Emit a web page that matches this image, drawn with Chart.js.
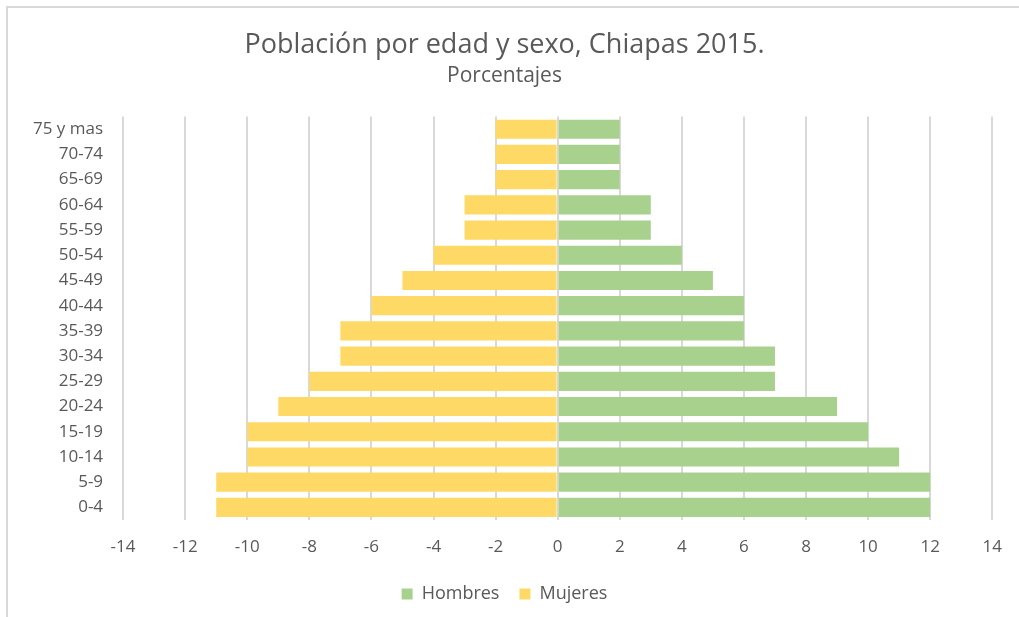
<!DOCTYPE html>
<html>
<head>
<meta charset="utf-8">
<script src="https://cdn.jsdelivr.net/npm/chart.js@4"></script>
<style>
  body { margin: 0; background: #fff; }
  #frame { position: absolute; left: 6px; top: 6px; width: 1013px; height: 611px;
           border-left: 2px solid #d9d9d9; border-top: 2px solid #d9d9d9; box-sizing: border-box; }
  #wrap { position: absolute; left: 0; top: 0; width: 1019px; height: 617px; }
</style>
</head>
<body>
<div id="frame"></div>
<div id="wrap"><canvas id="pyramid" width="1019" height="617"></canvas></div>
<script>
const ageGroups = ['75 y mas', '70-74', '65-69', '60-64', '55-59', '50-54', '45-49', '40-44',
  '35-39', '30-34', '25-29', '20-24', '15-19', '10-14', '5-9', '0-4'];
const hombres = [2, 2, 2, 3, 3, 4, 5, 6, 6, 7, 7, 9, 10, 11, 12, 12];
const mujeres = [-2, -2, -2, -3, -3, -4, -5, -6, -7, -7, -8, -9, -10, -10, -11, -11];

const grey = '#595959';
const font = '"Open Sans", sans-serif';

const ctx = document.getElementById('pyramid').getContext('2d');
const chart = new Chart(ctx, {
  type: 'bar',
  data: {
    labels: ageGroups,
    datasets: [{
      label: 'Hombres',
      data: hombres,
      backgroundColor: '#a9d18e',
      barPercentage: 0.76,
      categoryPercentage: 1
    }, {
      label: 'Mujeres',
      data: mujeres,
      backgroundColor: '#ffd966',
      barPercentage: 0.76,
      categoryPercentage: 1
    }]
  },
  options: {
    indexAxis: 'y',
    responsive: false,
    animation: false,
    layout: { padding: { left: 13, right: 23, top: 0, bottom: 4 } },
    scales: {
      x: {
        stacked: true,
        min: -14,
        max: 14,
        ticks: { stepSize: 2, color: grey, font: { family: font, size: 17 }, padding: 17 },
        grid: { color: '#d9d9d9', lineWidth: 2, drawTicks: false },
        border: { display: false },
        // leave a gap between tick labels and legend, like the original
        afterFit: (scale) => { scale.height = 45; }
      },
      y: {
        stacked: true,
        ticks: { color: grey, font: { family: font, size: 17 }, padding: 20 },
        grid: { display: false, drawTicks: false },
        border: { display: false }
      }
    },
    plugins: {
      title: {
        display: true,
        text: 'Población por edad y sexo, Chiapas 2015.',
        color: grey,
        font: { family: font, size: 27, weight: 'normal' },
        padding: { top: 29, bottom: 2 }
      },
      subtitle: {
        display: true,
        text: 'Porcentajes',
        color: grey,
        font: { family: font, size: 21 },
        padding: { bottom: 28 }
      },
      legend: {
        position: 'bottom',
        labels: { color: grey, font: { family: font, size: 18 }, boxWidth: 11, boxHeight: 11, padding: 20 }
      },
      tooltip: { enabled: false }
    }
  }
});
</script>
</body>
</html>
